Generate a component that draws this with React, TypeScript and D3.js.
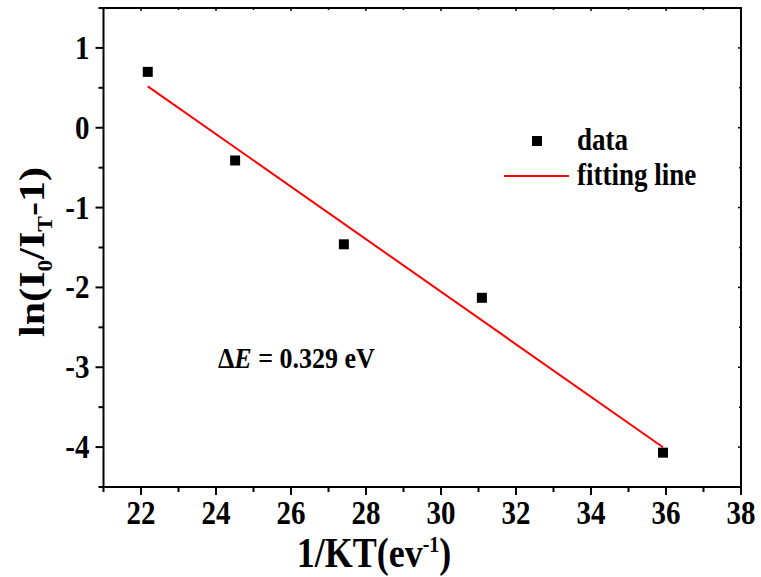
import React from 'react';
import * as d3 from 'd3';

const width = 761;
const height = 577;
const left = 103.5;
const right = 741;
const top = 8;
const bottom = 487;
const stretch = 1.17; // text in the picture is taller than it is wide

// data
const xValues = [22.18, 24.51, 27.41, 31.09, 35.92];
const yValues = [0.7, -0.41, -1.46, -2.13, -4.07];
const fitSlope = -0.329;
const fitIntercept = 7.816;
const fitFrom = 22.18;
const fitTo = 35.92;
const xTicks = [22, 24, 26, 28, 30, 32, 34, 36, 38];
const xMinor = [21, 23, 25, 27, 29, 31, 33, 35, 37];
const yTicks = [1, 0, -1, -2, -3, -4];
const yMinor = [1.5, 0.5, -0.5, -1.5, -2.5, -3.5, -4.5];

const textStyle = { fontFamily: "'Liberation Serif', 'Times New Roman', serif", fontWeight: 'bold' as const };

const x = d3.scaleLinear().domain([21, 38]).range([left, right]);
const y = d3.scaleLinear().domain([-4.5, 1.5]).range([bottom, top]);

const fitLine = d3
  .line<number>()
  .x(d => x(d))
  .y(d => y(fitIntercept + fitSlope * d));

function Label({ px, py, size, anchor = 'start', rotate = false, children }: any) {
  const tf = rotate
    ? `translate(${px},${py}) rotate(-90) scale(${stretch},1)`
    : `translate(${px},${py}) scale(1,${stretch})`;
  return (
    <g transform={tf}>
      <text x={0} y={0} textAnchor={anchor} fontSize={size} style={textStyle}>
        {children}
      </text>
    </g>
  );
}

export default function App() {
  return (
    <svg
      width={width}
      height={height}
      style={{ position: 'absolute', left: 0, top: 0, background: '#fff' }}
    >
      {/* frame */}
      <rect x={left} y={top} width={right - left} height={bottom - top} fill="none" stroke="#000" strokeWidth={2} />

      {/* bottom axis */}
      {xTicks.map(t => (
        <g key={'xt' + t}>
          <line x1={x(t)} x2={x(t)} y1={bottom} y2={bottom + 8} stroke="#000" strokeWidth={2} />
          <line x1={x(t)} x2={x(t)} y1={top} y2={top + 3} stroke="#000" strokeWidth={1.5} />
          <Label px={x(t)} py={bottom + 37} size={29} anchor="middle">{t}</Label>
        </g>
      ))}
      {xMinor.map(t => (
        <g key={'xm' + t}>
          <line x1={x(t)} x2={x(t)} y1={bottom} y2={bottom + 5} stroke="#000" strokeWidth={2} />
          <line x1={x(t)} x2={x(t)} y1={top} y2={top + 2} stroke="#000" strokeWidth={1.5} />
        </g>
      ))}

      {/* left axis */}
      {yTicks.map(t => (
        <g key={'yt' + t}>
          <line x1={left} x2={left - 8} y1={y(t)} y2={y(t)} stroke="#000" strokeWidth={2} />
          <line x1={right} x2={right - 3} y1={y(t)} y2={y(t)} stroke="#000" strokeWidth={1.5} />
          <Label px={left - 14} py={y(t) + 11} size={29} anchor="end">{t}</Label>
        </g>
      ))}
      {yMinor.map(t => (
        <g key={'ym' + t}>
          <line x1={left} x2={left - 5} y1={y(t)} y2={y(t)} stroke="#000" strokeWidth={2} />
          <line x1={right} x2={right - 2} y1={y(t)} y2={y(t)} stroke="#000" strokeWidth={1.5} />
        </g>
      ))}

      {/* axis titles */}
      <Label px={374} py={567} size={36} anchor="middle">
        1/KT(ev<tspan dy={-13} fontSize={20}>-1</tspan><tspan dy={13}>)</tspan>
      </Label>
      <Label px={44} py={252} size={36} anchor="middle" rotate>
        ln(I<tspan dy={8} fontSize={20}>0</tspan><tspan dy={-8}>/I</tspan>
        <tspan dy={8} fontSize={20}>T</tspan><tspan dy={-8}>-1)</tspan>
      </Label>

      {/* fitting line */}
      <path d={fitLine([fitFrom, fitTo]) || ''} fill="none" stroke="#ff0000" strokeWidth={2} />

      {/* data points */}
      {xValues.map((v, i) => (
        <rect key={'p' + i} x={x(v) - 5} y={y(yValues[i]) - 5} width={10} height={10} fill="#000" />
      ))}

      {/* legend */}
      <rect x={532} y={136} width={10} height={10} fill="#000" />
      <Label px={577} py={150} size={27}>data</Label>
      <line x1={504} x2={569} y1={176} y2={176} stroke="#ff0000" strokeWidth={2} />
      <Label px={577} py={185} size={27}>fitting line</Label>

      {/* annotation */}
      <Label px={218} py={368} size={26}>
        Δ<tspan fontStyle="italic">E</tspan> = 0.329 eV
      </Label>
    </svg>
  );
}
